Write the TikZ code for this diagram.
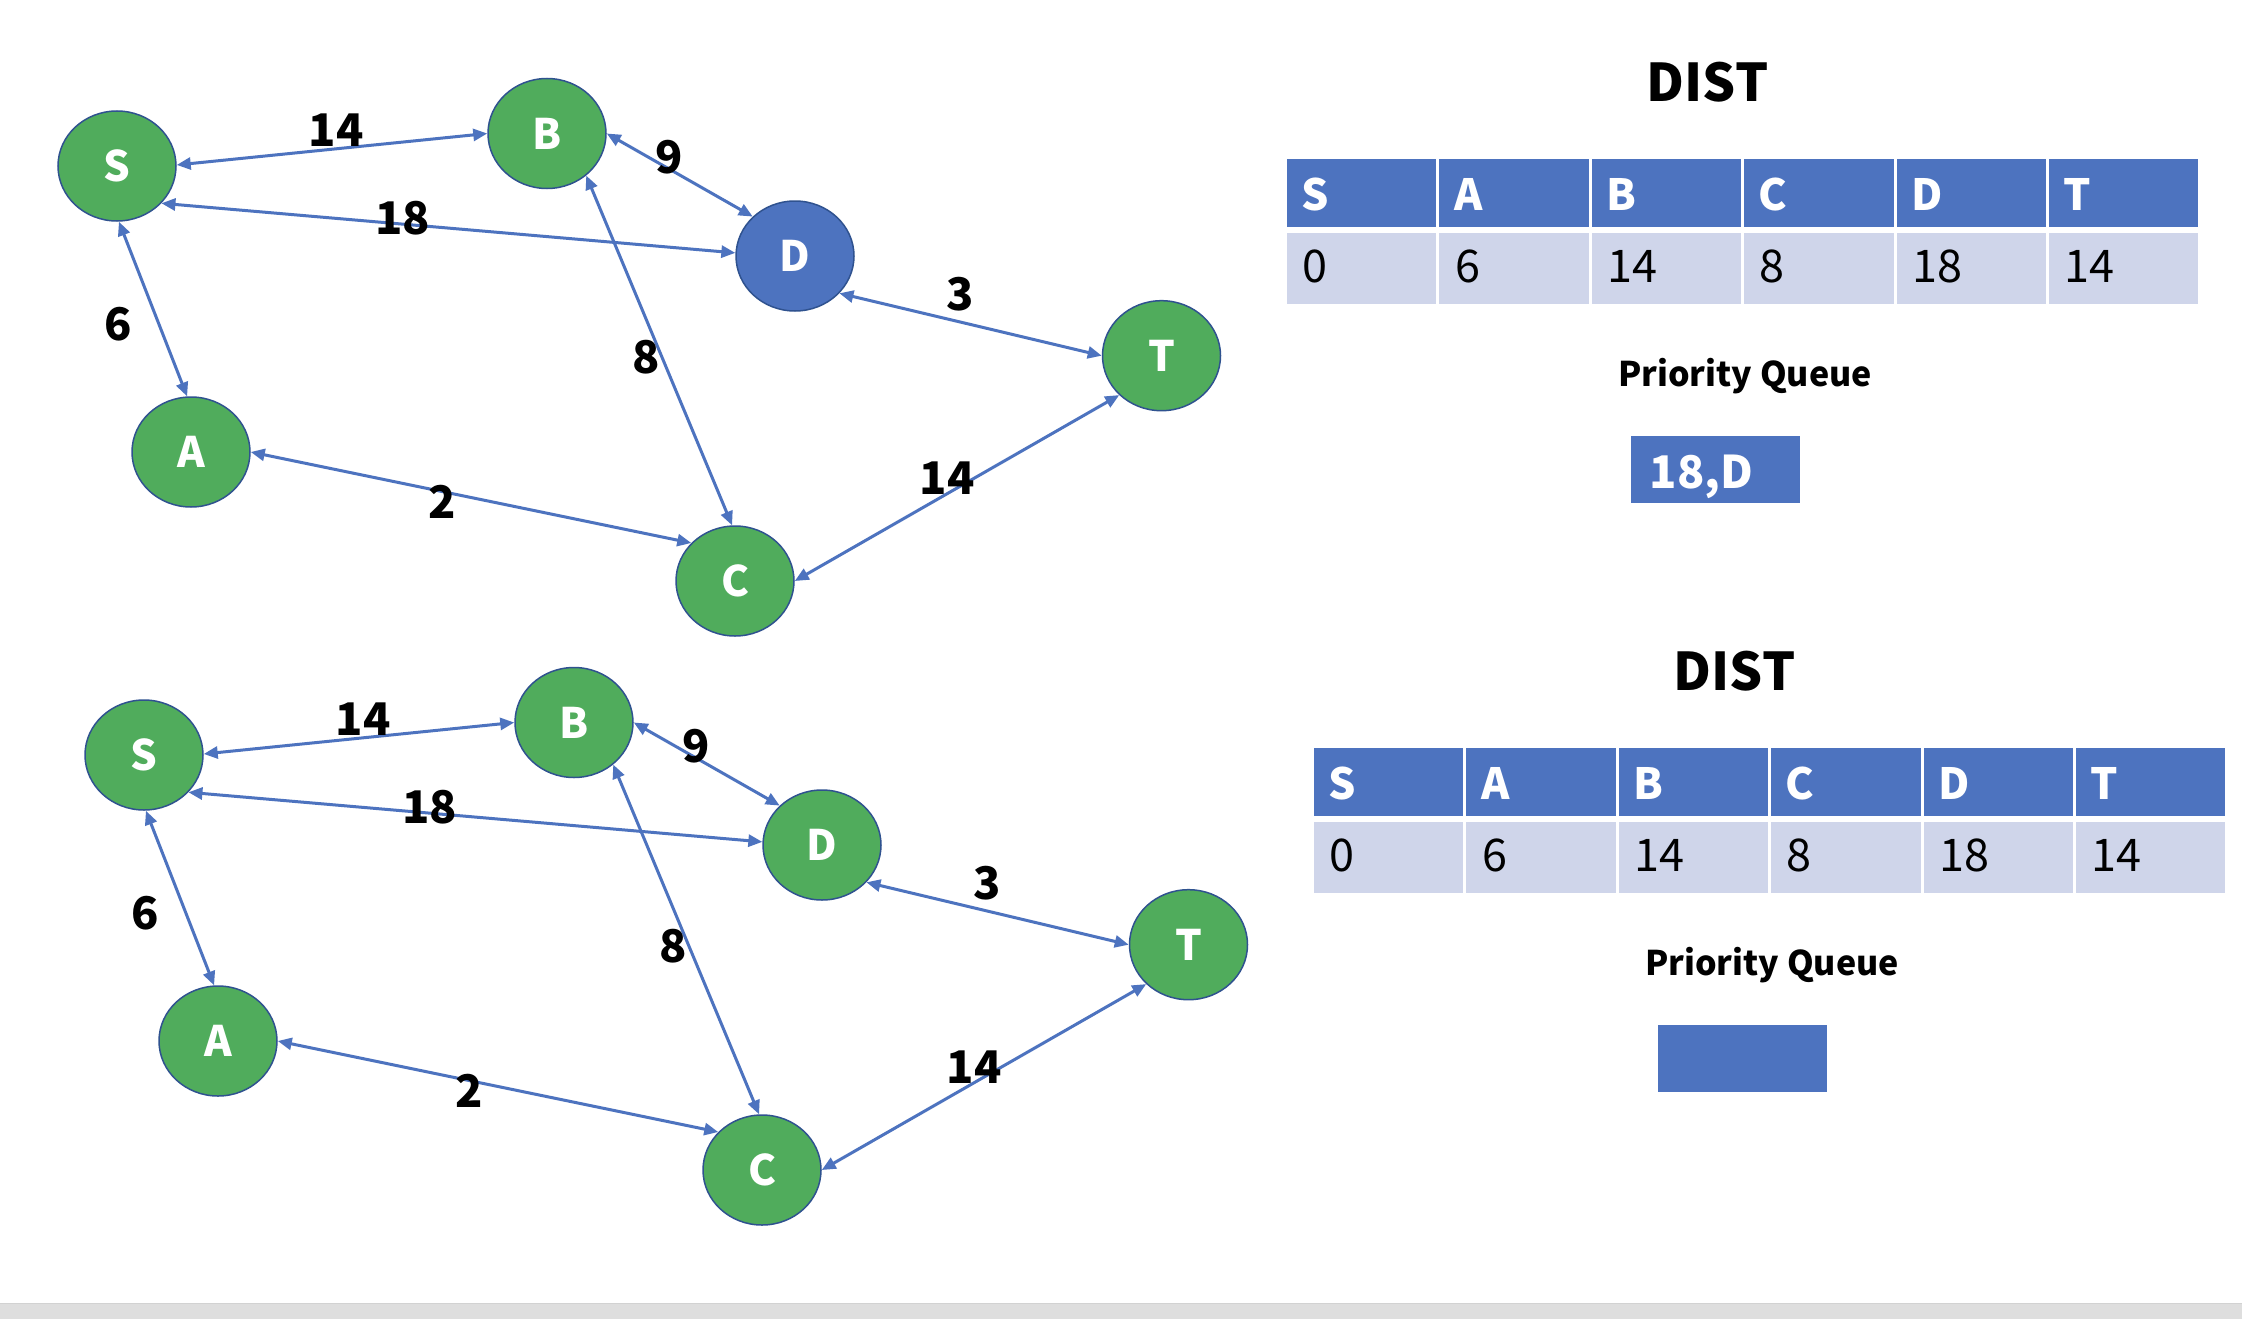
\documentclass[tikz,border=0pt]{standalone}
\usepackage{fontspec}
\setmainfont{Noto Sans CJK KR}
\usetikzlibrary{arrows.meta,shapes.geometric}
\definecolor{gfill}{HTML}{50AC5C}
\definecolor{nborder}{HTML}{2F528F}
\definecolor{accent}{HTML}{4D73BF}
\definecolor{lightrow}{HTML}{CFD5EA}
\definecolor{barfill}{HTML}{DEDEDE}
\definecolor{barline}{HTML}{D2D2D2}
\tikzset{
  vert/.style={ellipse, minimum width=118pt, minimum height=110pt, inner sep=0pt,
    draw=nborder, line width=1.5pt, fill=gfill, text=white,
    font=\fontsize{42}{50}\selectfont\bfseries},
  wlabel/.style={font=\fontsize{45}{54}\selectfont\bfseries, inner sep=0pt},
  link/.style={draw=accent, line width=3pt,
    {Triangle[length=14pt,width=12pt]}-{Triangle[length=14pt,width=12pt]}},
  hdr/.style={font=\fontsize{43}{50}\selectfont\bfseries, text=white, inner sep=0pt},
  val/.style={font=\fontsize{45}{54}\selectfont, text=black, inner sep=0pt},
  disttitle/.style={font=\fontsize{52}{60}\selectfont\bfseries, inner sep=0pt},
  pqtitle/.style={font=\fontsize{34}{40}\selectfont\bfseries, inner sep=0pt},
  pqbox/.style={fill=accent, minimum width=169pt, minimum height=66.7pt, inner sep=0pt},
  pqtext/.style={font=\fontsize{45}{54}\selectfont\bfseries, text=white, inner sep=0pt}
}
\newcommand\mypanel[4]{%
\begin{scope}[shift={#4}]
  \node[vert] (#1S) at (117,166) {S};
  \node[vert] (#1B) at (547,133.5) {B};
  \node[vert, fill=#2] (#1D) at (795,256) {D};
  \node[vert] (#1T) at (1161.5,355.7) {T};
  \node[vert] (#1A) at (191,452) {A};
  \node[vert] (#1C) at (735,581) {C};
  \draw[link] (#1S.1) -- (#1B.180);
  \draw[link] (#1S.-40) -- (#1D.177);
  \draw[link] (#1S.-88) -- (#1A.94);
  \draw[link] (#1B.0) -- (#1D.137);
  \draw[link] (#1B.-47) -- (#1C.93);
  \draw[link] (#1A.0) -- (#1C.139);
  \draw[link] (#1D.-40) -- (#1T.180);
  \draw[link] (#1C.0) -- (#1T.223);
  \node[wlabel] (#1wSB) at (336,130) {14};
  \node[wlabel] (#1wBD) at (669,157) {9};
  \node[wlabel] (#1wSD) at (402.5,218.6) {18};
  \node[wlabel] (#1wSA) at (118,324) {6};
  \node[wlabel] (#1wBC) at (646,357.5) {8};
  \node[wlabel] (#1wAC) at (442.6,502) {2};
  \node[wlabel] (#1wDT) at (960.6,294) {3};
  \node[wlabel] (#1wCT) at (947,478) {14};
  \node[disttitle, anchor=base] (#1dist) at (1707.5,101.7) {DIST};
  \foreach \h/\v [count=\i from 0] in {S/0,A/6,B/14,C/8,D/18,T/14} {
    \pgfmathsetmacro\xl{1285.5+152.4*\i}
    \fill[accent] (\xl+1.5,159) rectangle (\xl+150.9,227);
    \fill[lightrow] (\xl+1.5,233) rectangle (\xl+150.9,304);
    \node[hdr, anchor=base west] (#1h\h) at (\xl+16,210.7) {\h};
    \node[val, anchor=base west] (#1v\h) at (\xl+17,282.7) {\v};
  }
  \node[pqtitle, anchor=base] (#1pqt) at (1745,386.7) {Priority Queue};
  \node[pqbox, anchor=north west] (#1pq) at (1631,436) {};
  \node[pqtext, anchor=base west] (#1pqv) at (1649.4,488) {#3};
\end{scope}}
\begin{document}
\begin{tikzpicture}[x=1pt, y=-1pt]
  \useasboundingbox (0,0) rectangle (2242,1319);
  \fill[white] (0,0) rectangle (2242,1319);
  \mypanel{t}{accent}{18,D}{(0,0)}
  \mypanel{b}{gfill}{}{(27,589)}
  \fill[barfill] (0,1303) rectangle (2242,1319);
  \draw[barline, line width=1pt] (0,1303.5) -- (2242,1303.5);
\end{tikzpicture}
\end{document}
